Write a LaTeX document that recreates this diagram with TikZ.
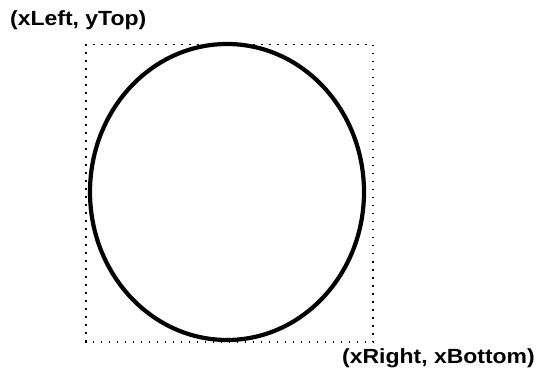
\documentclass[tikz,border=0pt]{standalone}
\usepackage{fontspec}
\setmainfont{Liberation Sans}
\newcommand{\widelbl}[1]{\scalebox{1.12}[1]{#1}}
\begin{document}
\begin{tikzpicture}[x=1pt,y=-1pt,
  lbl/.style={font=\bfseries\fontsize{20.5}{24}\selectfont,inner sep=0pt,anchor=base west},
  boxline/.style={line width=1.6pt,dash pattern=on 1.6pt off 6.4pt},
  ring/.style={line width=4.2pt}]
\useasboundingbox (0,0) rectangle (541,371);
\draw[boxline] (86,44.5) rectangle (373,342);
\draw[ring] (227,192) ellipse [x radius=137, y radius=148];
\node[lbl] (tl) at (10,25.5) {\widelbl{(xLeft, yTop)}};
\node[lbl] (br) at (342,363.5) {\widelbl{(xRight, xBottom)}};
\end{tikzpicture}
\end{document}
